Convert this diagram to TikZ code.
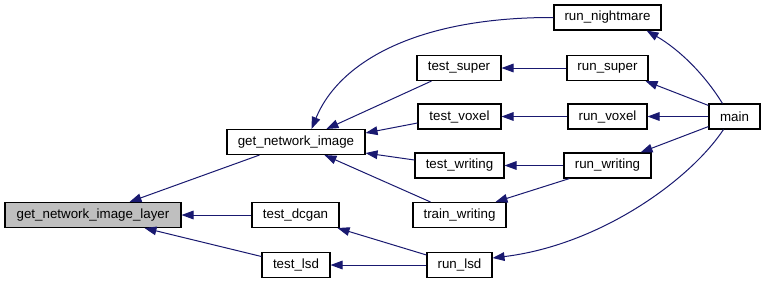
\documentclass[tikz,border=0pt]{standalone}
\usepackage{fontspec}
\setmainfont{Liberation Sans}
\usetikzlibrary{arrows.meta,calc}
\definecolor{edgeblue}{HTML}{191970}
\definecolor{rootgray}{HTML}{BFBFBF}
\begin{document}
\begin{tikzpicture}[x=0.75pt,y=-0.75pt,
  fn/.style={draw=black,line width=0.8pt,fill=white,inner sep=0pt,
    minimum height=18.75pt,minimum width=#1*0.75pt,
    font=\fontsize{10}{12}\selectfont},
  rootfn/.style={fn=#1,fill=rootgray},
  call/.style={draw=edgeblue,line width=0.75pt,
    {Triangle[length=9pt,width=6.5pt,fill=edgeblue]}-}]
\useasboundingbox[fill=white] (0,0) rectangle (765,283);

% functions, one column per call depth
\node[rootfn=176] (gnil) at (93,215) {get\_network\_image\_layer};

\node[fn=138] (gni)    at (296,142)   {get\_network\_image};
\node[fn=87]  (tdcgan) at (295.5,215) {test\_dcgan};
\node[fn=68]  (tlsd)   at (296,265)   {test\_lsd};

\node[fn=84] (tsuper)   at (459,68)    {test\_super};
\node[fn=83] (tvoxel)   at (459.5,116.5) {test\_voxel};
\node[fn=89] (twriting) at (459.5,165.5) {test\_writing};
\node[fn=93] (trwriting) at (459.5,215) {train\_writing};
\node[fn=65] (rlsd)     at (459.5,265) {run\_lsd};

\node[fn=107] (rnight)   at (607.5,17.5)  {run\_nightmare};
\node[fn=81]  (rsuper)   at (607.5,68)    {run\_super};
\node[fn=79]  (rvoxel)   at (607.5,116.5) {run\_voxel};
\node[fn=87]  (rwriting) at (607.5,165.5) {run\_writing};

\node[fn=51] (main) at (734.5,116.5) {main};

% calls into get_network_image_layer
\draw[call] ($(gnil.north west)+(125,0)$) -- ($(gni.south west)+(33,0)$);
\draw[call] (gnil.east) -- (tdcgan.west);
\draw[call] ($(gnil.south west)+(140,0)$) -- ($(tlsd.west)+(0,-8.5)$);

% calls into get_network_image
\draw[call] ($(gni.north west)+(85,0)$) .. controls (340,60) and (420,17) .. (rnight.west);
\draw[call] ($(gni.north west)+(100,0)$) -- ($(tsuper.south west)+(15,0)$);
\draw[call] ($(gni.east)+(0,-9)$) -- ($(tvoxel.west)+(0,6.5)$);
\draw[call] ($(gni.south east)+(0,-2)$) -- ($(twriting.west)+(0,-5.5)$);
\draw[call] ($(gni.south west)+(98,0)$) -- ($(trwriting.north west)+(18,0)$);

% calls into the test functions
\draw[call] (tsuper) -- (rsuper);
\draw[call] (tvoxel) -- (rvoxel);
\draw[call] (twriting) -- (rwriting);
\draw[call] ($(trwriting.north west)+(83,0)$) -- ($(rwriting.south west)+(6,0)$);
\draw[call] (tlsd.east) -- (rlsd.west);
\draw[call] ($(tdcgan.south east)+(-2,0)$) -- ($(rlsd.west)+(0,-10)$);

% calls from main
\draw[call] ($(rnight.south east)+(-15,0)$) .. controls (680,50) and (705,75) .. ($(main.north west)+(14,0)$);
\draw[call] ($(rsuper.south east)+(-3,0)$) -- ($(main.north west)+(0,2)$);
\draw[call] (rvoxel) -- (main);
\draw[call] ($(rwriting.north east)+(-11,0)$) -- ($(main.south west)+(0,-3)$);
\draw[call] ($(rlsd.east)+(0,-7)$) .. controls (600,245) and (690,180) .. ($(main.south west)+(15,0)$);
\end{tikzpicture}
\end{document}
